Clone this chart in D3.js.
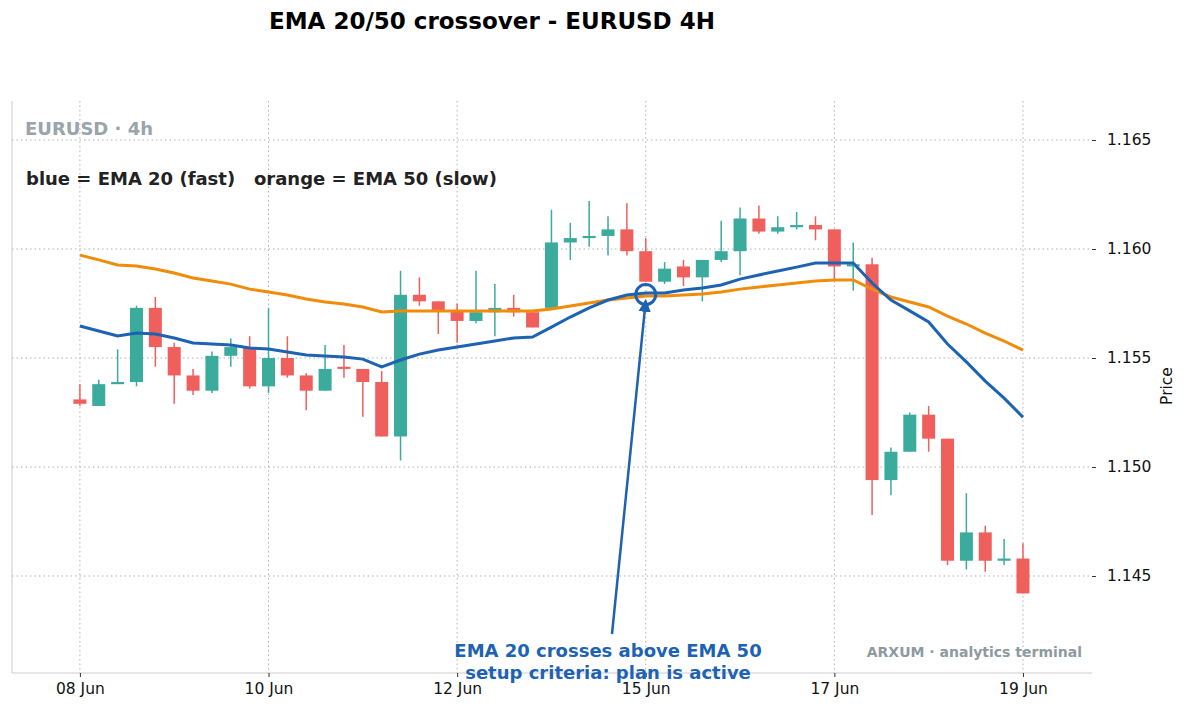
<!DOCTYPE html>
<html><head><meta charset="utf-8">
<script src="https://cdn.jsdelivr.net/npm/d3@7"></script>
<style>body{margin:0;background:#fff;font-family:"DejaVu Sans",sans-serif}</style>
</head><body><svg id="c" width="1188" height="713"></svg>
<script>
const opens =[1.1531,1.1528,1.1538,1.1539,1.1573,1.1555,1.1542,1.1535,1.1551,1.1555,1.1537,1.1550,1.1542,1.1535,1.1546,1.1545,1.1539,1.1514,1.1579,1.1576,1.1572,1.1567,1.1571,1.1573,1.1571,1.1573,1.1603,1.1605,1.1606,1.1609,1.1599,1.1585,1.1592,1.1587,1.1595,1.1599,1.1614,1.1608,1.1610,1.1611,1.1609,1.1592,1.1593,1.1494,1.1507,1.1524,1.1513,1.1457,1.1470,1.1457,1.1458];
const highs =[1.1538,1.1540,1.1554,1.1574,1.1578,1.1557,1.1545,1.1553,1.1559,1.1560,1.1573,1.1560,1.1543,1.1556,1.1556,1.1545,1.1544,1.1590,1.1587,1.1576,1.1575,1.1590,1.1584,1.1579,1.1571,1.1618,1.1612,1.1622,1.1615,1.1621,1.1605,1.1594,1.1595,1.1595,1.1613,1.1619,1.1620,1.1615,1.1617,1.1615,1.1609,1.1603,1.1596,1.1509,1.1525,1.1528,1.1513,1.1488,1.1473,1.1467,1.1465];
const lows  =[1.1528,1.1528,1.1538,1.1537,1.1546,1.1529,1.1533,1.1534,1.1546,1.1536,1.1534,1.1541,1.1526,1.1535,1.1541,1.1523,1.1514,1.1503,1.1574,1.1561,1.1557,1.1566,1.1560,1.1569,1.1564,1.1573,1.1595,1.1601,1.1597,1.1597,1.1585,1.1584,1.1583,1.1576,1.1594,1.1588,1.1607,1.1607,1.1609,1.1604,1.1586,1.1581,1.1478,1.1487,1.1507,1.1507,1.1455,1.1453,1.1452,1.1455,1.1442];
const closes=[1.1529,1.1538,1.1539,1.1573,1.1555,1.1542,1.1535,1.1551,1.1555,1.1537,1.1550,1.1542,1.1535,1.1545,1.1545,1.1539,1.1514,1.1579,1.1576,1.1572,1.1567,1.1571,1.1573,1.1571,1.1564,1.1603,1.1605,1.1606,1.1609,1.1599,1.1585,1.1591,1.1587,1.1595,1.1599,1.1614,1.1608,1.1610,1.1611,1.1609,1.1592,1.1593,1.1494,1.1507,1.1524,1.1513,1.1457,1.1470,1.1457,1.1458,1.1442];
const ema20=[1.15647,1.15624,1.15601,1.15615,1.15610,1.15592,1.15569,1.15564,1.15560,1.15546,1.15541,1.15528,1.15514,1.15509,1.15505,1.15495,1.15459,1.15491,1.15518,1.15537,1.15550,1.15564,1.15578,1.15592,1.15596,1.15642,1.15688,1.15730,1.15766,1.15789,1.15798,1.15798,1.15812,1.15821,1.15835,1.15862,1.15881,1.15899,1.15917,1.15936,1.15936,1.15936,1.15844,1.15766,1.15716,1.15665,1.15564,1.15482,1.15394,1.15316,1.15229];
const ema50=[1.15972,1.15950,1.15927,1.15922,1.15908,1.15890,1.15867,1.15853,1.15839,1.15816,1.15803,1.15789,1.15771,1.15757,1.15748,1.15734,1.15711,1.15716,1.15716,1.15716,1.15716,1.15716,1.15716,1.15716,1.15716,1.15725,1.15739,1.15752,1.15766,1.15775,1.15784,1.15784,1.15789,1.15794,1.15803,1.15816,1.15826,1.15835,1.15844,1.15853,1.15858,1.15858,1.15816,1.15780,1.15757,1.15734,1.15692,1.15656,1.15614,1.15578,1.15536];
const xTickIdx=[0,10,20,30,40,50];
const xTickLabels=["08 Jun","10 Jun","12 Jun","15 Jun","17 Jun","19 Jun"];
const yTicks=[1.145,1.150,1.155,1.160,1.165];
const crossIdx=30;

const svg=d3.select("#c");
const L=12,R=1092,T=101,B=673;
const x=d3.scaleLinear().domain([-3.6,53.66]).range([L,R]);
const y=d3.scaleLinear().domain([1.14055,1.16679]).range([B,T]);
const green="#3aab9c",red="#ef5f5c";

svg.append("g").selectAll("line").data(xTickIdx).join("line")
 .attr("x1",d=>x(d)).attr("x2",d=>x(d)).attr("y1",T).attr("y2",B)
 .attr("stroke","#b0b0b0").attr("stroke-dasharray","1.5,3");
svg.append("g").selectAll("line").data(yTicks).join("line")
 .attr("x1",L).attr("x2",R).attr("y1",d=>y(d)).attr("y2",d=>y(d))
 .attr("stroke","#b0b0b0").attr("stroke-dasharray","1.5,3");
svg.append("line").attr("x1",L).attr("x2",L).attr("y1",T).attr("y2",B).attr("stroke","#ccc");
svg.append("line").attr("x1",L).attr("x2",R).attr("y1",B).attr("y2",B).attr("stroke","#ccc");

const xa=svg.append("g").attr("transform",`translate(0,${B})`)
 .call(d3.axisBottom(x).tickValues(xTickIdx).tickFormat((d,i)=>xTickLabels[i]).tickSize(4).tickPadding(6));
const ya=svg.append("g").attr("transform",`translate(${R},0)`)
 .call(d3.axisRight(y).tickValues(yTicks).tickFormat(d3.format(".3f")).tickSize(4).tickPadding(11));
[xa,ya].forEach(a=>{a.select(".domain").remove();a.selectAll("text").attr("font-size",15.5).attr("fill","#111").attr("font-family","DejaVu Sans");a.selectAll("line").attr("stroke","#333");});

const idx=d3.range(opens.length);
const cw=13;
svg.append("g").selectAll("line").data(idx).join("line")
 .attr("x1",i=>x(i)).attr("x2",i=>x(i)).attr("y1",i=>y(highs[i])).attr("y2",i=>y(lows[i]))
 .attr("stroke",i=>closes[i]>=opens[i]?green:red).attr("stroke-width",1.5);
svg.append("g").selectAll("rect").data(idx).join("rect")
 .attr("x",i=>x(i)-cw/2).attr("width",cw)
 .attr("y",i=>y(Math.max(opens[i],closes[i])))
 .attr("height",i=>Math.max(1.5,Math.abs(y(opens[i])-y(closes[i]))))
 .attr("fill",i=>closes[i]>=opens[i]?green:red);

const line=d3.line().x((d,i)=>x(i)).y(d=>y(d));
svg.append("path").datum(ema50).attr("d",line).attr("fill","none").attr("stroke","#f08c0a").attr("stroke-width",3);
svg.append("path").datum(ema20).attr("d",line).attr("fill","none").attr("stroke","#1d62b3").attr("stroke-width",3);

const cx=x(crossIdx),cy=y((ema20[crossIdx]+ema50[crossIdx])/2);
svg.append("circle").attr("cx",cx).attr("cy",cy).attr("r",10).attr("fill","none").attr("stroke","#1d62b3").attr("stroke-width",3);
svg.append("defs").append("marker").attr("id","ah").attr("viewBox","0 0 10 10").attr("refX",9).attr("refY",5)
 .attr("markerWidth",5).attr("markerHeight",5).attr("orient","auto")
 .append("path").attr("d","M0,0L10,5L0,10z").attr("fill","#1d62b3");
svg.append("line").attr("x1",612).attr("y1",634).attr("x2",cx).attr("y2",cy+6)
 .attr("stroke","#1d62b3").attr("stroke-width",2.5).attr("marker-end","url(#ah)");
const at=svg.append("text").attr("text-anchor","middle").attr("fill","#1d62b3").attr("font-weight","bold").attr("font-size",18);
at.append("tspan").attr("x",608).attr("y",657).text("EMA 20 crosses above EMA 50");
at.append("tspan").attr("x",608).attr("y",679).text("setup criteria: plan is active");

svg.append("text").attr("x",1082).attr("y",657).attr("text-anchor","end").attr("fill","#8e9aa0").attr("font-weight","bold").attr("font-size",14).text("ARXUM · analytics terminal");
svg.append("text").attr("x",25).attr("y",135).attr("fill","#9aa4ab").attr("font-weight","bold").attr("font-size",18).text("EURUSD · 4h");
svg.append("text").attr("x",26).attr("y",185).attr("fill","#222").attr("font-weight","bold").attr("font-size",18).attr("xml:space","preserve").text("blue = EMA 20 (fast)   orange = EMA 50 (slow)");
svg.append("text").attr("x",492).attr("y",29).attr("text-anchor","middle").attr("font-weight","bold").attr("font-size",23).attr("fill","#000").text("EMA 20/50 crossover - EURUSD 4H");
svg.append("text").attr("transform","translate(1172,386) rotate(-90)").attr("text-anchor","middle").attr("font-size",15.5).attr("fill","#111").text("Price");
</script></body></html>
